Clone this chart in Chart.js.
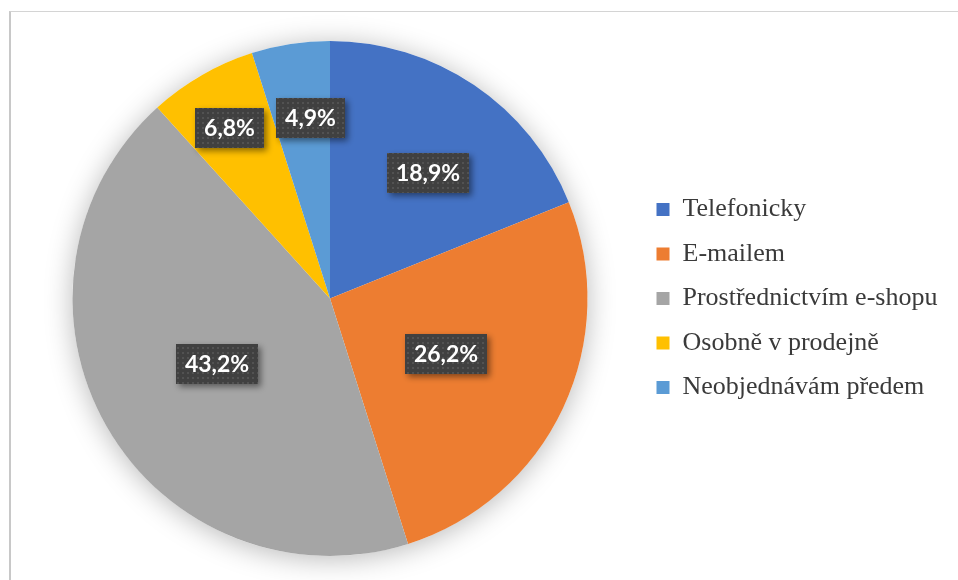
<!DOCTYPE html>
<html>
<head>
<meta charset="utf-8">
<script src="https://cdn.jsdelivr.net/npm/chart.js@4/dist/chart.umd.min.js"></script>
<style>
  body { margin: 0; background: #fff; }
  #wrap { position: relative; width: 958px; height: 580px; overflow: hidden; }
  #frame { position: absolute; left: 9px; top: 11px; right: -2px; bottom: -2px;
           border-top: 1px solid #d4d4d4; border-left: 2px solid #c8c8c8; }
  canvas { position: absolute; left: 0; top: 0; }
</style>
</head>
<body>
<div id="wrap">
  <div id="frame"></div>
  <canvas id="pieChart" width="958" height="580"></canvas>
</div>
<script>
const categories = ['Telefonicky', 'E-mailem', 'Prostřednictvím e-shopu', 'Osobně v prodejně', 'Neobjednávám předem'];
const shares = [18.9, 26.2, 43.2, 6.8, 4.9];
const colors = ['#4472C4', '#ED7D31', '#A5A5A5', '#FFC000', '#5B9BD5'];

// label placement: fraction of radius, angle tweak in degrees (Excel "best fit")
const labelRadius = [0.62, 0.50, 0.506, 0.77, 0.705];
const labelTurn = [4, 0.3, -0.3, -0.7, 2.5];

const legendFont = '26px "Liberation Serif"';
const legendPad = 18.5;
const mctx = document.createElement('canvas').getContext('2d');
mctx.font = legendFont;
const longest = Math.max(...categories.map(c => mctx.measureText(c).width));
const legendWidth = legendPad + 13 + 13 + longest + 10;
const chartLeft = 22;
const chartRight = 2 * 330 - chartLeft;

// dotted fill for the label boxes
const pat = document.createElement('canvas');
pat.width = 5; pat.height = 5;
const pctx = pat.getContext('2d');
pctx.fillStyle = '#404040';
pctx.fillRect(0, 0, 5, 5);
pctx.fillStyle = '#525252';
pctx.fillRect(2, 2, 2, 2);

const pieShadow = {
	id: 'pieShadow',
	beforeDatasetsDraw(chart) {
		const arc = chart.getDatasetMeta(0).data[0];
		if (!arc) return;
		const ctx = chart.ctx;
		ctx.save();
		ctx.shadowColor = 'rgba(0,0,0,0.28)';
		ctx.shadowBlur = 28;
		ctx.shadowOffsetY = 3;
		ctx.fillStyle = '#ffffff';
		ctx.beginPath();
		ctx.arc(arc.x, arc.y, arc.outerRadius, 0, Math.PI * 2);
		ctx.fill();
		ctx.restore();
	}
};

const boxLabels = {
	id: 'boxLabels',
	afterDatasetsDraw(chart) {
		const ctx = chart.ctx;
		const fill = ctx.createPattern(pat, 'repeat');
		chart.getDatasetMeta(0).data.forEach((arc, i) => {
			const mid = (arc.startAngle + arc.endAngle) / 2 + labelTurn[i] * Math.PI / 180;
			const r = arc.outerRadius * labelRadius[i];
			const cx = arc.x + Math.cos(mid) * r;
			const cy = arc.y + Math.sin(mid) * r;
			const text = shares[i].toFixed(1).replace('.', ',') + '%';
			ctx.save();
			ctx.font = 'bold 23px Lato';
			const w = Math.round(ctx.measureText(text).width + 18);
			const h = 40;
			const x = Math.round(cx - w / 2), y = Math.round(cy - h / 2);
			ctx.shadowColor = 'rgba(0,0,0,0.45)';
			ctx.shadowBlur = 6;
			ctx.shadowOffsetX = 3;
			ctx.shadowOffsetY = 3;
			ctx.fillStyle = fill;
			ctx.fillRect(x, y, w, h);
			ctx.shadowColor = 'transparent';
			ctx.fillStyle = '#ffffff';
			ctx.textAlign = 'center';
			ctx.textBaseline = 'middle';
			ctx.fillText(text, x + w / 2, y + h / 2 + 1);
			ctx.restore();
		});
	}
};

new Chart(document.getElementById('pieChart'), {
	type: 'pie',
	data: {
		labels: categories,
		datasets: [{
			data: shares,
			backgroundColor: colors,
			borderWidth: 0
		}]
	},
	options: {
		responsive: false,
		devicePixelRatio: 1,
		animation: false,
		layout: {
			padding: { top: 41, bottom: 24, left: chartLeft, right: 958 - chartRight - legendWidth }
		},
		plugins: {
			legend: {
				position: 'right',
				labels: {
					boxWidth: 13,
					boxHeight: 13,
					padding: legendPad,
					color: '#3a3a3a',
					font: { family: 'Liberation Serif', size: 26 }
				}
			},
			tooltip: { enabled: false }
		}
	},
	plugins: [pieShadow, boxLabels]
});
</script>
</body>
</html>
